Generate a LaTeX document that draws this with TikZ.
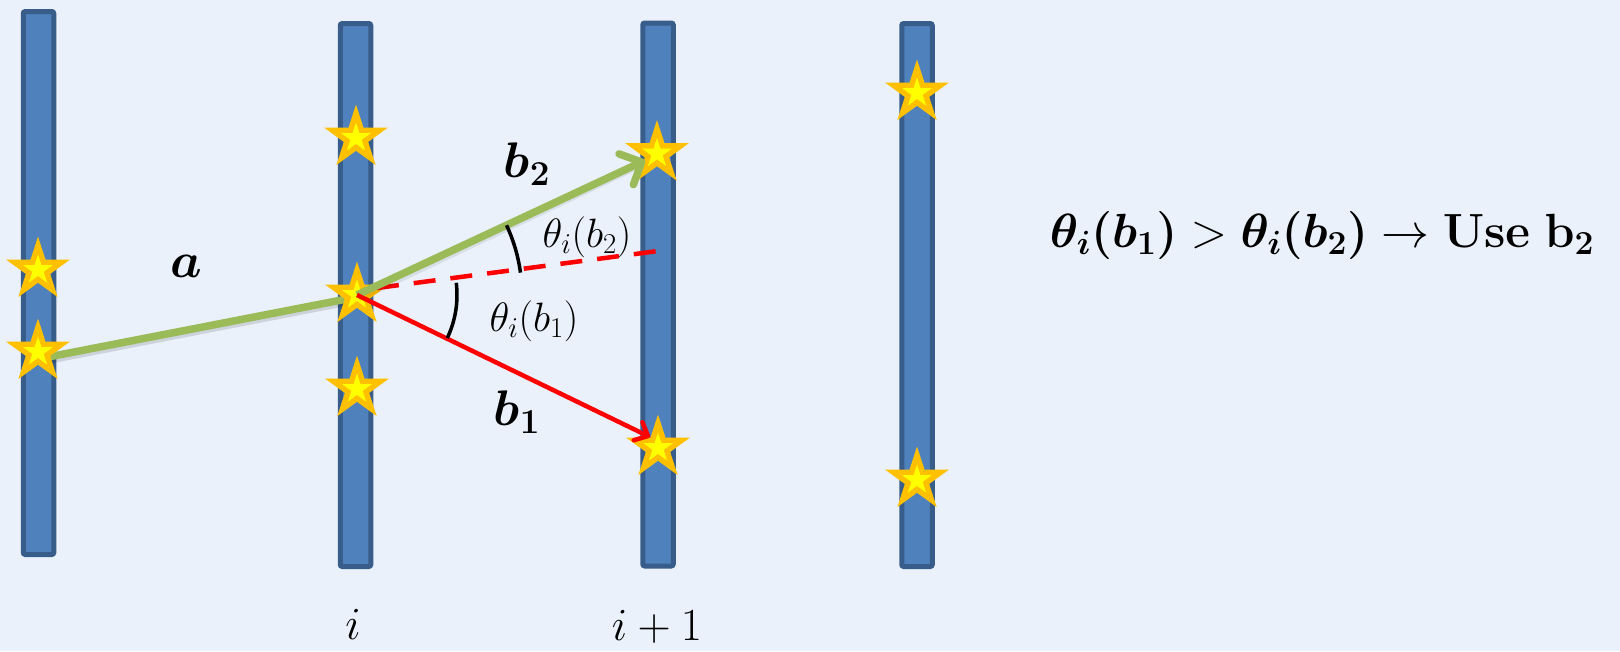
\RequirePackage{fix-cm}
\documentclass[tikz,border=0pt]{standalone}
\usepackage{amsmath,bm}
\usetikzlibrary{shapes.geometric,arrows.meta}
\definecolor{bgc}{HTML}{EAF1FA}
\definecolor{barfill}{HTML}{4F81BD}
\definecolor{barline}{HTML}{385D8A}
\definecolor{stargold}{HTML}{FFC000}
\definecolor{staryellow}{HTML}{FFFF00}
\definecolor{greenline}{HTML}{9BBB59}
\definecolor{redline}{HTML}{FF0000}
\pgfdeclarelayer{backdrop}
\pgfdeclarelayer{bars}
\pgfdeclarelayer{lines}
\pgfsetlayers{backdrop,bars,lines,main}
\newcommand{\drawstar}[2]{%
  \node[staro] (#1) at #2 {};
  \node[stari] (#1i) at (#1.center) {};}
\begin{document}
\begin{tikzpicture}[x=1pt,y=-1pt,
  bar/.style={draw=barline, fill=barfill, line width=5pt, rounded corners=2pt,
    minimum width=30.5pt, minimum height=543pt, inner sep=0pt},
  staro/.style={star, star points=5, star point ratio=2.618, fill=stargold,
    minimum size=67pt, inner sep=0pt},
  stari/.style={star, star points=5, star point ratio=2.618, fill=staryellow,
    minimum size=31pt, inner sep=0pt},
  glinestyle/.style={draw=greenline, line width=7.5pt},
  rlinestyle/.style={draw=redline, line width=4.5pt},
  shadowline/.style={draw=black, opacity=0.12, line width=7pt},
  anglearc/.style={draw=black, line width=3.5pt},
  bigmath/.style={font=\fontsize{50}{60}\selectfont, inner sep=0pt},
  formulafont/.style={font=\fontsize{48}{58}\selectfont, inner sep=0pt},
  smallmath/.style={font=\fontsize{41}{48}\selectfont, inner sep=0pt},
  axislabel/.style={font=\fontsize{46}{54}\selectfont, inner sep=0pt}]
\useasboundingbox (0,0) rectangle (1620,651);
\begin{pgfonlayer}{backdrop}
\fill[bgc] (0,0) rectangle (1620,651);
\end{pgfonlayer}

% bars
\begin{pgfonlayer}{bars}
\node[bar] (bar1) at (38.5,283) {};
\node[bar] (bar2) at (355.5,295) {};
\node[bar] (bar3) at (658,294.5) {};
\node[bar] (bar4) at (917,295) {};
\end{pgfonlayer}

% stars
\drawstar{s1t}{(38,270)}
\drawstar{s1b}{(38,352)}
\drawstar{s2t}{(356,138)}
\drawstar{s2m}{(357,295)}
\drawstar{s2b}{(357,389)}
\drawstar{s3t}{(657,153.5)}
\drawstar{s3b}{(658,448)}
\drawstar{s4t}{(917,93)}
\drawstar{s4b}{(917,480)}

% line a (under the stars)
\begin{pgfonlayer}{lines}
\draw[shadowline] ([shift={(2,10)}]s1b.center) -- ([shift={(2,5)}]s2m.center);
\draw[glinestyle] ([yshift=-7pt]s1b.center) -- ([yshift=-2pt]s2m.center);
\end{pgfonlayer}

% dashed continuation
\coordinate (dashend) at (658,251);
\draw[rlinestyle, dash pattern=on 22pt off 15pt] ([shift={(20,-7)}]s2m.center) -- (dashend);

% b2 arrow
\draw[shadowline, opacity=0.08] ([shift={(2,3)}]s2m.center) -- ([shift={(-14,10)}]s3t.center);
\draw[glinestyle, -{Straight Barb[length=17pt,width=34pt,round]}]
  (s2m.center) -- ([shift={(-12,7)}]s3t.center);

% b1 arrow
\draw[rlinestyle, -{Straight Barb[length=11pt,width=20pt,round]}]
  (s2m.center) -- ([shift={(-8,-11)}]s3b.center);

% angle arcs
\draw[anglearc] (s2m.center) ++(-7.8:165) arc[start angle=-7.8, end angle=-25, radius=165];
\draw[anglearc] (s2m.center) ++(-7:100) arc[start angle=-7, end angle=25.5, radius=100];

% labels
\node[bigmath] (la) at (186,266) {$\bm{a}$};
\node[bigmath] (lb2) at (527,164) {$\bm{b_2}$};
\node[bigmath] (lb1) at (517,412) {$\bm{b_1}$};
\node[smallmath] (th2) at (587,237) {$\theta_i(b_2)$};
\node[smallmath] (th1) at (534,321) {$\theta_i(b_1)$};
\node[axislabel] (li) at (353,624) {$i$};
\node[axislabel] (li1) at (657,627) {$i+1$};
\node[formulafont] (formula) at (1322,235)
  {$\bm{\theta_i(b_1)} > \bm{\theta_i(b_2)} \rightarrow \mathbf{Use\ b_2}$};
\end{tikzpicture}
\end{document}
